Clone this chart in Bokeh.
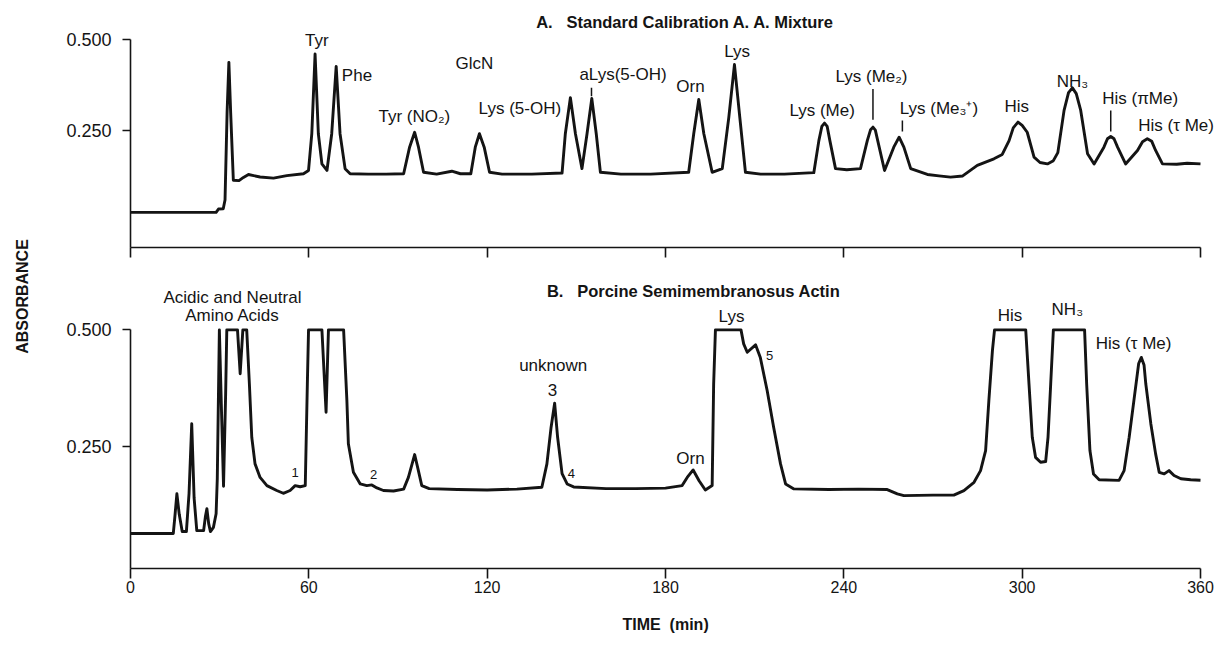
import math
from bokeh.plotting import figure
from bokeh.models import Range1d, FixedTicker, ColumnDataSource, LabelSet, Label
from bokeh.layouts import row, column
from bokeh.core.properties import value
from bokeh.embed import file_html
from bokeh.resources import INLINE

# ---------------- data ----------------
x_ticks = [0, 60, 120, 180, 240, 300, 360]
y_ticks = [0.25, 0.5]
y_tick_labels = ["0.250", "0.500"]

# Panel A: standard calibration mixture (time in min, absorbance)
a_time = [0, 28.8, 29.6, 31.2, 31.8, 32.5, 33.1, 33.7, 34.6, 36.5, 38.0, 39.7, 43.6, 48.1, 52.6, 58.2,
          59.9, 61.0, 62.1, 63.2, 64.4, 66.1, 67.7, 69.2, 70.5, 72.2, 73.9, 80.0, 86.0,
          91.9, 93.9, 95.6, 96.9, 98.6, 103.0, 108.1, 111.0,
          114.5, 116.0, 117.4, 119.0, 120.8, 125.0, 135.0,
          145.2, 146.3, 148.0, 149.7, 151.9, 153.6, 155.2, 156.7, 158.1, 165.0, 175.0,
          187.8, 189.5, 191.2, 192.9, 195.7, 199.1, 201.3, 203.2, 205.0, 206.9, 212.0, 220.0,
          229.9, 231.6, 232.6, 233.5, 234.4, 235.3, 237.2, 241.0,
          245.6, 247.9, 249.0, 249.8, 250.6, 251.4, 253.7,
          256.8, 258.6, 260.2, 262.5, 268.1, 272.0, 275.9, 280.0, 284.9, 290.5, 293.3,
          295.6, 297.0, 298.6, 300.0, 301.7, 304.0, 306.0, 308.5, 310.5, 312.0,
          314.1, 315.6, 316.9, 318.2, 319.7, 322.0, 324.2,
          327.5, 328.7, 329.8, 330.9, 332.1, 334.8,
          338.8, 340.5, 342.1, 343.6, 344.9, 347.2, 352.0, 355.5, 360.0]
a_abs = [0.026, 0.026, 0.035, 0.036, 0.06, 0.30, 0.438, 0.30, 0.114, 0.113, 0.122, 0.130, 0.123, 0.120, 0.127, 0.132,
         0.141, 0.242, 0.461, 0.242, 0.159, 0.141, 0.242, 0.427, 0.242, 0.146, 0.132, 0.131, 0.131,
         0.132, 0.205, 0.246, 0.205, 0.136, 0.131, 0.139, 0.132,
         0.132, 0.205, 0.242, 0.205, 0.136, 0.131, 0.131,
         0.134, 0.242, 0.341, 0.242, 0.146, 0.242, 0.339, 0.242, 0.136, 0.131, 0.131,
         0.136, 0.242, 0.336, 0.242, 0.136, 0.146, 0.287, 0.432, 0.287, 0.136, 0.131, 0.131,
         0.135, 0.223, 0.262, 0.271, 0.262, 0.223, 0.146, 0.143,
         0.146, 0.223, 0.253, 0.260, 0.252, 0.223, 0.141,
         0.205, 0.2325, 0.205, 0.146, 0.130, 0.126, 0.1226, 0.126, 0.155, 0.173, 0.185,
         0.223, 0.258, 0.274, 0.265, 0.246, 0.1775, 0.163, 0.159, 0.168, 0.190,
         0.306, 0.355, 0.368, 0.352, 0.306, 0.187, 0.159,
         0.205, 0.228, 0.2344, 0.228, 0.205, 0.159,
         0.196, 0.220, 0.228, 0.221, 0.196, 0.159, 0.158, 0.161, 0.159]

# Panel B: porcine semimembranosus actin
b_time = [0, 14.4, 15.0, 15.6, 16.4, 17.4, 18.8, 19.7, 20.6, 21.4, 22.3, 24.6, 25.2, 25.7, 26.3, 26.9,
          27.9, 28.8, 29.2, 29.9, 30.6, 31.3, 32.0, 32.4, 36.0, 36.9, 37.8, 39.1, 40.0, 40.8, 41.9,
          43.6, 45.9, 49.2, 51.4, 53.7, 55.4, 57.1, 58.8, 59.5, 59.9, 64.4, 65.8, 66.6, 71.7, 72.8,
          73.3, 75.0, 77.3, 79.5, 81.2, 82.9, 85.1, 88.5, 91.9, 93.5, 95.6, 96.8, 98.0, 100.5,
          110.0, 120.0, 130.0, 138.4, 140.1, 141.5, 142.7, 143.7, 145.2, 146.9, 149.1, 160.0, 170.0,
          180.0, 185.6, 187.3, 189.3, 191.3, 193.4, 195.7, 196.2, 196.8, 205.4, 206.3, 207.5, 210.3,
          211.9, 214.2, 216.4, 218.7, 220.4, 223.2, 235.0, 245.0, 254.6, 258.0, 260.2, 270.0, 277.0,
          280.4, 283.8, 286.0, 287.7, 288.8, 290.0, 290.7, 301.2, 302.3, 303.4, 304.5, 306.2, 307.9,
          308.7, 309.6, 310.5, 321.0, 321.7, 322.8, 324.0, 325.9, 332.6, 334.3, 336.0, 337.6,
          339.2, 340.1, 341.0,
          341.6, 343.3, 344.9, 346.1, 347.8, 349.4, 351.1, 353.4, 356.7, 360.0]
b_abs = [0.064, 0.064, 0.105, 0.149, 0.105, 0.068, 0.068, 0.150, 0.299, 0.140, 0.070, 0.070, 0.100, 0.117, 0.085, 0.068,
         0.077, 0.106, 0.181, 0.500, 0.330, 0.165, 0.360, 0.500, 0.500, 0.406, 0.500, 0.500, 0.384, 0.270, 0.213,
         0.184, 0.1665, 0.156, 0.150, 0.156, 0.1665, 0.164, 0.1665, 0.384, 0.500, 0.500, 0.3235, 0.500, 0.500, 0.349,
         0.256, 0.195, 0.170, 0.1665, 0.168, 0.1615, 0.156, 0.155, 0.159, 0.184, 0.233, 0.200, 0.1665, 0.160,
         0.158, 0.157, 0.159, 0.163, 0.213, 0.291, 0.343, 0.270, 0.192, 0.170, 0.1636, 0.160, 0.160,
         0.161, 0.1665, 0.184, 0.200, 0.177, 0.157, 0.1665, 0.384, 0.500, 0.500, 0.470, 0.452, 0.468,
         0.441, 0.370, 0.291, 0.213, 0.170, 0.1594, 0.158, 0.159, 0.158, 0.1487, 0.145, 0.146, 0.146,
         0.1558, 0.1735, 0.1986, 0.2415, 0.349, 0.456, 0.500, 0.500, 0.384, 0.270, 0.227, 0.2164, 0.218,
         0.270, 0.384, 0.500, 0.500, 0.384, 0.2415, 0.1915, 0.179, 0.1776, 0.1986, 0.270, 0.349,
         0.428, 0.441, 0.425,
         0.384, 0.2986, 0.2344, 0.195, 0.1915, 0.1986, 0.188, 0.181, 0.179, 0.178]

assert len(a_time) == len(a_abs)
assert len(b_time) == len(b_abs)

# Peak labels
a_label_text = ["Tyr", "Phe", "Tyr (NO\u2082)", "GlcN", "Lys (5-OH)", "aLys(5-OH)", "Orn", "Lys",
                "Lys (Me)", "Lys (Me\u2082)", "Lys (Me\u2083\u207a)", "His", "NH\u2083",
                "His (\u03c0Me)", "His (\u03c4 Me)"]
a_label_t = [62.7, 76.2, 95.5, 115.7, 131.0, 165.7, 188.4, 204.1,
             232.7, 249.3, 272.0, 298.2, 316.9, 339.7, 351.8]
a_label_v = [0.499, 0.402, 0.289, 0.434, 0.310, 0.405, 0.372, 0.469,
             0.306, 0.399, 0.310, 0.317, 0.385, 0.338, 0.265]
# leader ticks under some labels
a_lead_t = [155.1, 249.8, 259.7, 329.8]
a_lead_v0 = [0.345, 0.280, 0.248, 0.248]
a_lead_v1 = [0.368, 0.365, 0.278, 0.306]

b_label_text = ["Acidic and Neutral", "Amino Acids", "unknown", "3", "Orn", "Lys",
                "His", "NH\u2083", "His (\u03c4 Me)"]
b_label_t = [34.3, 34.3, 142.2, 142.0, 188.4, 202.2, 295.9, 315.2, 337.5]
b_label_v = [0.570, 0.531, 0.4235, 0.372, 0.225, 0.528, 0.531, 0.543, 0.471]

b_small_text = ["1", "2", "4", "5"]
b_small_t = [55.4, 81.8, 148.3, 215.0]
b_small_v = [0.195, 0.190, 0.193, 0.445]

title_a = "A.\u00a0\u00a0\u00a0Standard Calibration A. A. Mixture"
title_b = "B.\u00a0\u00a0\u00a0Porcine Semimembranosus Actin"
x_title = "TIME\u00a0\u00a0(min)\u00a0\u00a0\u00a0\u00a0"

# ---------------- style ----------------
INK = "#141414"
FONT = "Liberation Sans"
LEFT_W = 48
FW = 1218 - LEFT_W
BL = 130 - LEFT_W                       # frame starts at x=130
X_END = 360 * (FW - BL) / 1070.0        # 0..360 min spans 1070 px; frame runs to the page edge


def style(p, y_lo, show_x_labels):
    p.xgrid.visible = False
    p.ygrid.visible = False
    p.outline_line_color = None
    for ax in (p.xaxis[0], p.yaxis[0]):
        ax.axis_line_width = 1.6
        ax.axis_line_color = INK
        ax.major_tick_line_width = 1.6
        ax.major_tick_line_color = INK
        ax.major_tick_in = 0
        ax.minor_tick_in = 0
    xa = p.xaxis[0]
    xa.bounds = (min(x_ticks), max(x_ticks))
    if show_x_labels:
        xa.ticker = FixedTicker(ticks=x_ticks)
        xa.major_tick_out = 10
        xa.minor_tick_line_color = None
        xa.major_label_text_font = FONT
        xa.major_label_text_font_size = "16px"
        xa.major_label_text_color = INK
        xa.major_label_standoff = 2
    else:
        # ticks without labels: use the minor-tick slots
        xa.ticker = FixedTicker(ticks=[], minor_ticks=x_ticks)
        xa.minor_tick_out = 10
        xa.minor_tick_line_width = 1.6
        xa.minor_tick_line_color = INK
    ya = p.yaxis[0]
    ya.ticker = FixedTicker(ticks=y_ticks)
    ya.bounds = (y_lo, max(y_ticks))
    ya.minor_tick_line_color = None
    ya.major_tick_out = 8
    ya.major_label_overrides = dict(zip(y_ticks, y_tick_labels))
    ya.major_label_text_font = FONT
    ya.major_label_text_font_size = "18px"
    ya.major_label_text_color = INK
    ya.major_label_standoff = 11


def labels(p, texts, ts, vs, size, align="center"):
    src = ColumnDataSource(dict(text=texts, t=ts, v=vs))
    p.add_layout(LabelSet(x="t", y="v", text="text", source=src,
                          text_align=align, text_baseline="middle",
                          text_font=value(FONT), text_font_size=value(size),
                          text_color=INK))


# Panel A  (0.500 at y=39, 0.250 at y=130, axis at y=247)
ya_lo, ya_hi = -0.0706, 0.5942
pa = figure(width=FW, height=265, x_range=Range1d(0, X_END), y_range=Range1d(ya_lo, ya_hi),
            output_backend="svg", toolbar_location=None,
            min_border_left=BL, min_border_right=0, min_border_top=5, min_border_bottom=18)
style(pa, ya_lo, False)
pa.line(x="t", y="v", source=ColumnDataSource(dict(t=a_time, v=a_abs)),
        line_width=2.9, line_color=INK, line_join="round")
pa.segment(x0="t", y0="v0", x1="t", y1="v1",
           source=ColumnDataSource(dict(t=a_lead_t, v0=a_lead_v0, v1=a_lead_v1)),
           line_width=1.5, line_color=INK)
labels(pa, a_label_text, a_label_t, a_label_v, "17px")
pa.add_layout(Label(x=136.5, y=0.550, text=title_a, text_align="left", text_baseline="middle",
                    text_font=FONT, text_font_style="bold", text_font_size="16.5px", text_color=INK))

# Panel B  (0.500 at y=329, 0.250 at y=446, axis at y=568)
yb_lo, yb_hi = -0.0111, 0.6272
pb = figure(width=FW, height=386, x_range=Range1d(0, X_END), y_range=Range1d(yb_lo, yb_hi),
            output_backend="svg", toolbar_location=None,
            min_border_left=BL, min_border_right=0, min_border_top=5, min_border_bottom=83)
style(pb, yb_lo, True)
pb.xaxis[0].axis_label = x_title
pb.xaxis[0].axis_label_text_font = FONT
pb.xaxis[0].axis_label_text_font_style = "bold"
pb.xaxis[0].axis_label_text_font_size = "16px"
pb.xaxis[0].axis_label_text_color = INK
pb.xaxis[0].axis_label_standoff = 20
pb.line(x="t", y="v", source=ColumnDataSource(dict(t=b_time, v=b_abs)),
        line_width=2.9, line_color=INK, line_join="round")
labels(pb, b_label_text, b_label_t, b_label_v, "17px")
labels(pb, b_small_text, b_small_t, b_small_v, "13px")
pb.add_layout(Label(x=140.1, y=0.584, text=title_b, text_align="left", text_baseline="middle",
                    text_font=FONT, text_font_style="bold", text_font_size="16.5px", text_color=INK))

# Left strip with the shared y-axis title
pl = figure(width=LEFT_W, height=651, x_range=Range1d(0, LEFT_W), y_range=Range1d(0, 651),
            output_backend="svg", toolbar_location=None, x_axis_type=None, y_axis_type=None,
            min_border=0, min_border_left=0, min_border_right=0, min_border_top=0, min_border_bottom=0)
pl.outline_line_color = None
pl.add_layout(Label(x=22, y=651 - 296, text="ABSORBANCE", angle=math.pi / 2, text_align="center",
                    text_baseline="middle", text_font=FONT, text_font_style="bold",
                    text_font_size="16px", text_color=INK))

layout = row(pl, column(pa, pb))
open("out.html", "w").write(file_html(layout, INLINE, "chromatogram"))
